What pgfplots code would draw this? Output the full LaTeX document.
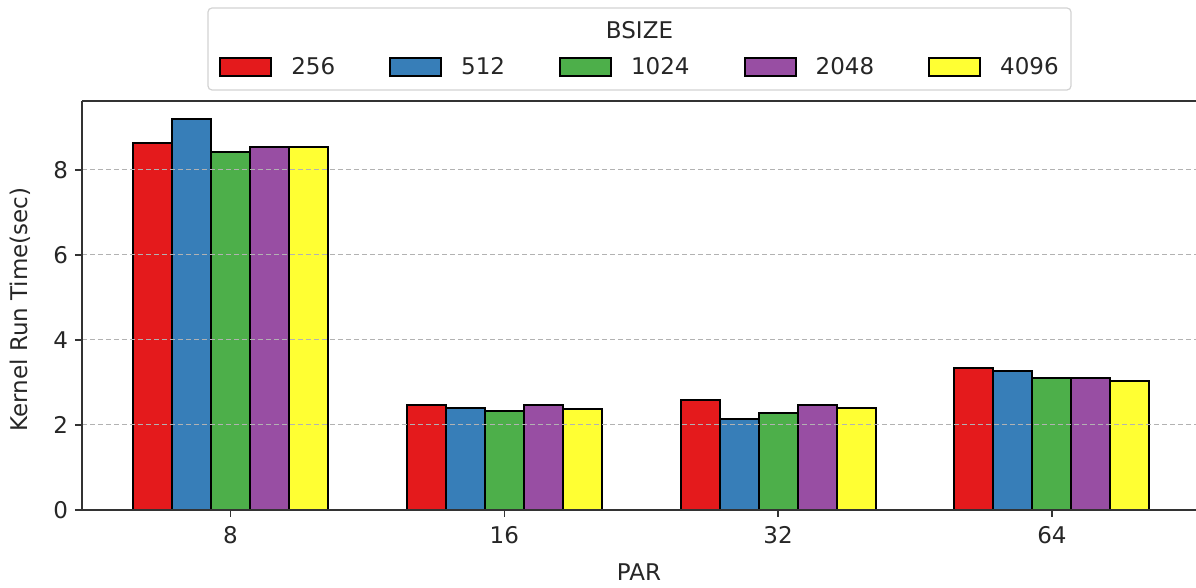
\documentclass[border=0pt]{standalone}
\usepackage{fontspec}
\setmainfont{DejaVu Sans}
\usepackage{pgfplots}
\pgfplotsset{compat=1.18}
\definecolor{cRed}{HTML}{E41A1C}
\definecolor{cBlue}{HTML}{377EB8}
\definecolor{cGreen}{HTML}{4DAF4A}
\definecolor{cPurple}{HTML}{984EA3}
\definecolor{cYellow}{HTML}{FFFF33}
\newcommand{\fs}{\fontsize{11.5pt}{14pt}\selectfont}
\begin{document}
\begin{tikzpicture}
\useasboundingbox (-41pt,-39pt) rectangle (557pt,255pt);
\begin{axis}[
  at={(0,0)}, anchor=south west,
  scale only axis,
  width=557pt, height=204.5pt,
  xmin=-0.542, xmax=3.526,
  ymin=0, ymax=9.62,
  ybar=0pt, bar width=19.5pt,
  xtick={0,1,2,3}, xticklabels={8,16,32,64},
  ytick={0,2,4,6,8},
  axis x line*=box, axis y line*=left,
  tick pos=left,
  tick align=outside,
  major tick length=3.5pt,
  every tick/.style={black!80, line width=0.7pt},
  axis line style={-, draw=black!80, line width=0.8pt},
  ymajorgrids,
  grid style={gray!60, line width=0.5pt, dash pattern=on 2.5pt off 1.5pt},
  axis on top,
  clip=false,
  /pgf/number format/assume math mode=true,
  tick label style={font=\fs, text=black!85},
  xticklabel style={yshift=-1pt},
  xlabel={PAR}, ylabel={Kernel Run Time(sec)},
  every axis x label/.style={at={(axis description cs:0.5,0)}, yshift=-31pt, anchor=center, font=\fs, text=black!85},
  every axis y label/.style={at={(axis description cs:0,0.5)}, xshift=-31pt, yshift=-2pt, rotate=90, anchor=center, font=\fs, text=black!85},
  legend columns=5,
  legend style={at={(0.5,1.0819)}, anchor=center, draw=none, fill=none, inner sep=0pt,
    font=\fs, text=black!85,
    nodes={inner sep=0pt},
    /tikz/every odd column/.append style={column sep=9.5pt},
    /tikz/every even column/.append style={column sep=27pt}},
  legend image code/.code={\draw[#1,/tikz/.cd,bar shift=0pt] (0pt,-4.5pt) rectangle (25.5pt,4.5pt);},
]
\addplot[fill=cRed, draw=black, line width=1pt] coordinates {(0,8.63) (1,2.46) (2,2.58) (3,3.35)};
\addlegendentry{256}
\addplot[fill=cBlue, draw=black, line width=1pt] coordinates {(0,9.20) (1,2.41) (2,2.15) (3,3.28)};
\addlegendentry{512}
\addplot[fill=cGreen, draw=black, line width=1pt] coordinates {(0,8.43) (1,2.34) (2,2.29) (3,3.10)};
\addlegendentry{1024}
\addplot[fill=cPurple, draw=black, line width=1pt] coordinates {(0,8.53) (1,2.48) (2,2.46) (3,3.10)};
\addlegendentry{2048}
\addplot[fill=cYellow, draw=black, line width=1pt] coordinates {(0,8.53) (1,2.38) (2,2.39) (3,3.04)};
\addlegendentry{4096}
\end{axis}
\draw[gray!35, line width=0.6pt, rounded corners=2pt] (63pt,210pt) rectangle (494.5pt,251pt);
\node[font=\fs, text=black!85, anchor=center] at (278.75pt,240pt) {BSIZE};
\end{tikzpicture}
\end{document}
